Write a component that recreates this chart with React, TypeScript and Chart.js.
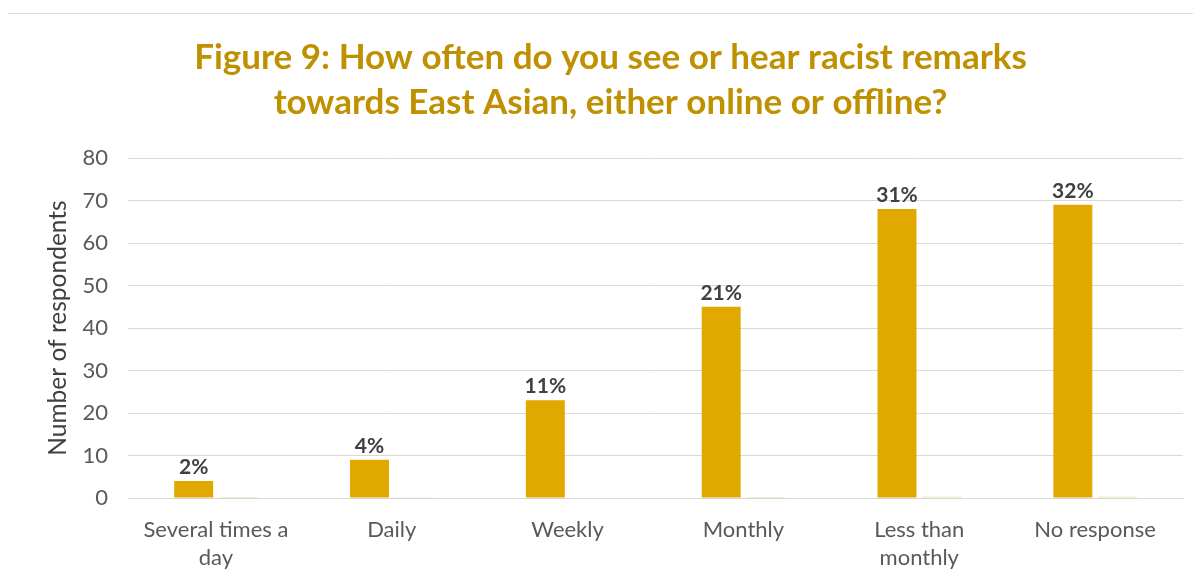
import React, { useEffect, useRef } from "react";
import Chart from "chart.js/auto";

const categories: (string | string[])[] = [
  ["Several times a", "day"],
  "Daily",
  "Weekly",
  "Monthly",
  ["Less than", "monthly"],
  "No response",
];
const respondents: number[] = [4, 9, 23, 45, 68, 69];
const shares: number[] = [0.02, 0.04, 0.11, 0.21, 0.31, 0.32];
const shareLabels: string[] = ["2%", "4%", "11%", "21%", "31%", "32%"];
const yTicks: number[] = [0, 10, 20, 30, 40, 50, 60, 70, 80];

const FONT = "Lato, 'Noto Sans', sans-serif";

const labelPlugin = {
  id: "barLabels",
  afterDatasetsDraw(chart: any) {
    const ctx = chart.ctx;
    const meta = chart.getDatasetMeta(0);
    ctx.save();
    ctx.font = `bold 21px ${FONT}`;
    ctx.fillStyle = "#404040";
    ctx.textAlign = "center";
    ctx.textBaseline = "alphabetic";
    meta.data.forEach((bar: any, i: number) => {
      ctx.fillText(shareLabels[i], bar.x, bar.y - 7);
    });
    ctx.restore();
  },
};

export default function App() {
  const ref = useRef<HTMLCanvasElement>(null);
  useEffect(() => {
    if (!ref.current) return;
    const chart = new Chart(ref.current, {
      type: "bar",
      data: {
        labels: categories,
        datasets: [
          {
            label: "Number of respondents",
            data: respondents,
            backgroundColor: "#E1A900",
            categoryPercentage: 0.506,
            barPercentage: 0.876,
          },
          {
            label: "Share",
            data: shares,
            backgroundColor: "#E9D3A3",
            categoryPercentage: 0.506,
            barPercentage: 0.876,
          },
        ],
      },
      options: {
        responsive: false,
        animation: false,
        layout: { padding: { left: 38, right: 18, top: 0, bottom: 9 } },
        plugins: {
          legend: { display: false },
          tooltip: { enabled: false },
          title: {
            display: true,
            text: [
              "Figure 9: How often do you see or hear racist remarks",
              "towards East Asian, either online or offline?",
            ],
            color: "#BF9000",
            font: { family: FONT, size: 35, weight: "bold", lineHeight: "45px" },
            padding: { top: 35.5, bottom: 32.5 },
          },
        },
        scales: {
          x: {
            afterFit: (scale: any) => {
              scale.height = 74;
            },
            grid: { display: false, drawTicks: false },
            border: { display: true, color: "#d9d9d9", width: 1 },
            ticks: {
              color: "#595959",
              font: { family: FONT, size: 22, lineHeight: "28px" },
              padding: 18,
              maxRotation: 0,
              autoSkip: false,
            },
          },
          y: {
            min: 0,
            max: 80,
            afterFit: (scale: any) => {
              scale.width = 90;
            },
            afterBuildTicks: (scale: any) => {
              scale.ticks = yTicks.map((v) => ({ value: v }));
            },
            grid: { color: "#d9d9d9", lineWidth: 1, drawTicks: false },
            border: { display: false },
            ticks: {
              color: "#595959",
              font: { family: FONT, size: 22 },
              padding: 20,
            },
            title: {
              display: true,
              text: "Number of respondents",
              color: "#404040",
              font: { family: FONT, size: 24.5, lineHeight: 1.2 },
              padding: { top: 5, bottom: 0 },
            },
          },
        },
      },
      plugins: [labelPlugin],
    });
    return () => chart.destroy();
  }, []);

  return (
    <div style={{ position: "relative", width: 1201, height: 581, margin: -8, overflow: "hidden", background: "#fff" }}>
      <div
        style={{
          position: "absolute",
          left: 4,
          top: 13,
          width: 1260,
          height: 640,
          border: "1px solid #d9d9d9",
          boxSizing: "border-box",
        }}
      />
      <canvas
        ref={ref}
        width={1201}
        height={581}
        style={{ position: "absolute", left: 0, top: 0, width: 1201, height: 581 }}
      />
    </div>
  );
}
